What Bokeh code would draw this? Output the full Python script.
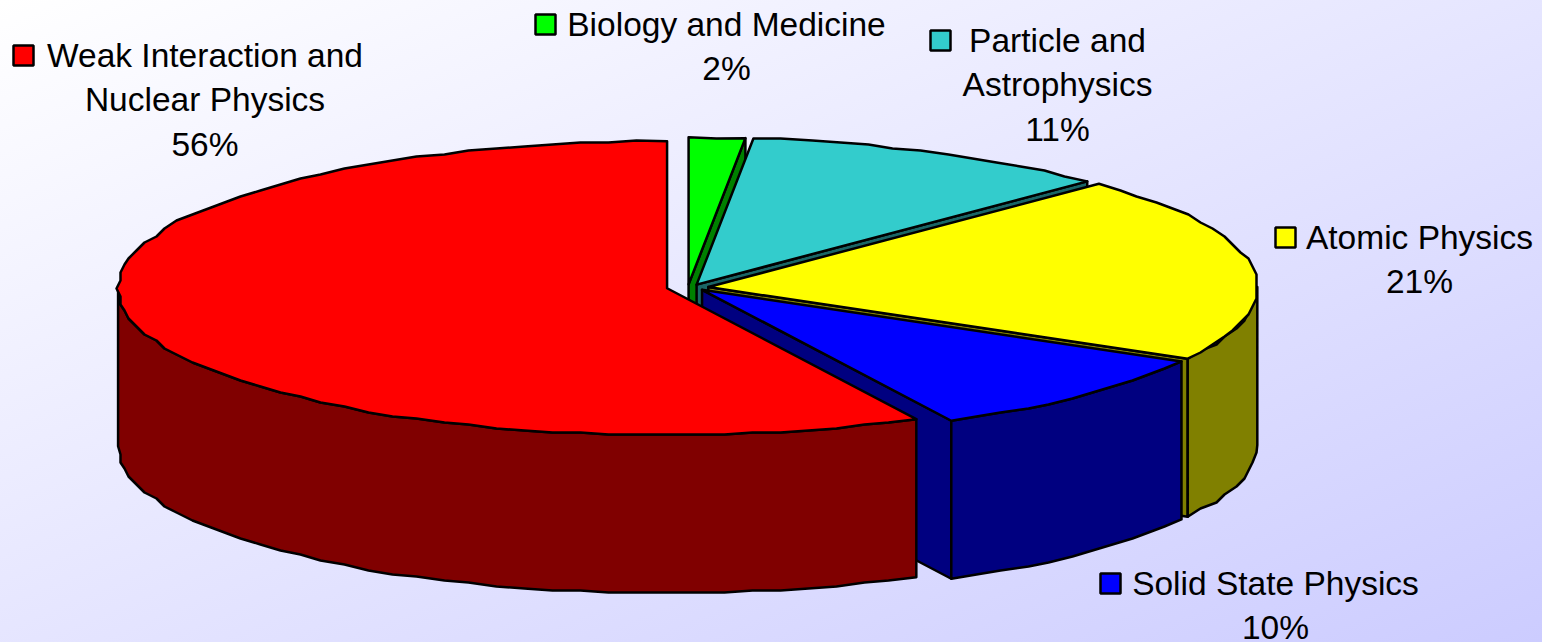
import math
from bokeh.plotting import figure
from bokeh.models import ColumnDataSource, Range1d
from bokeh.core.properties import value
from bokeh.embed import file_html
from bokeh.resources import INLINE

# ---- data ----
categories = ["Biology and Medicine", "Particle and Astrophysics", "Atomic Physics",
              "Solid State Physics", "Weak Interaction and Nuclear Physics"]
# share of the circle actually covered by each drawn wedge
slice_shares = [1.65, 10.95, 20.5, 9.4, 57.5]
percent_labels = ["2%", "11%", "21%", "10%", "56%"]
top_colors = ["#00ff00", "#33cccc", "#ffff00", "#0000ff", "#ff0000"]
side_colors = ["#008000", "#1a6666", "#808000", "#000080", "#800000"]
label_lines = [["Biology and Medicine"], ["Particle and", "Astrophysics"], ["Atomic Physics"],
               ["Solid State Physics"], ["Weak Interaction and", "Nuclear Physics"]]

# ---- layout (screen pixels) ----
W, H = 1542, 642
CX, CY = 687, 287
RX, RY = 549, 147
DEPTH = 158
EXPLODE = 21
EXPLODE_SQUASH = 0.15
SNAP_X, SNAP_Y = 4, 2
label_center_x = [726, 1057, 1419, 1275, 204.5]
label_first_middle = [23.5, 39.5, 236.5, 582.5, 54.5]
LINE_STEP = 44.6
key_center = [(545, 24), (940, 40), (1285, 237), (1110, 583), (23, 55)]

p = figure(width=W, height=H, output_backend="svg", toolbar_location=None,
           x_range=Range1d(0, W), y_range=Range1d(H, 0),
           min_border=0, outline_line_color=None,
           background_fill_color=None, border_fill_color=None)
p.axis.visible = False
p.grid.visible = False


def rim(a0, a1, ox, oy):
    n = max(2, int((a1 - a0) / 3.0))
    pts = []
    for i in range(n + 1):
        a = math.radians(a0 + (a1 - a0) * i / n)
        x = ox + RX * math.sin(a)
        y = oy - RY * math.cos(a)
        if 0 < i < n:
            x = round(x / SNAP_X) * SNAP_X
            y = round(y / SNAP_Y) * SNAP_Y
        pts.append((x, y))
    return pts


def poly(pts, color):
    src = ColumnDataSource(dict(x=[q[0] for q in pts], y=[q[1] for q in pts]))
    p.patch("x", "y", source=src, fill_color=color, line_color="black", line_width=2.5,
            line_join="round")


start = 0.0
for share, top, side in zip(slice_shares, top_colors, side_colors):
    end = start + share * 3.6
    mid = math.radians((start + end) / 2)
    ox = CX + EXPLODE * math.sin(mid)
    oy = CY - EXPLODE * math.cos(mid) * EXPLODE_SQUASH
    arc = rim(start, end, ox, oy)
    # cut wall at the clockwise end of the wedge, faces the viewer in the right half
    if end < 180:
        ex, ey = arc[-1]
        poly([(ox, oy), (ex, ey), (ex, ey + DEPTH), (ox, oy + DEPTH)], side)
    # outer wall: front half of the rim only
    a0, a1 = max(start, 90), min(end, 270)
    if a1 > a0:
        front = rim(a0, a1, ox, oy)
        poly(front + [(x, y + DEPTH) for x, y in reversed(front)], side)
    poly([(ox, oy)] + arc, top)
    start = end

for (kx, ky), color in zip(key_center, top_colors):
    p.rect([kx], [ky], width=20, height=20, fill_color=color, line_color="black", line_width=2.5)

for lines, pct, tx, ty in zip(label_lines, percent_labels, label_center_x, label_first_middle):
    texts = lines + [pct]
    p.text([tx] * len(texts), [ty + i * LINE_STEP for i in range(len(texts))], text=texts,
           text_font=value("Liberation Sans"), text_font_size="33.5px", text_color="black",
           text_align="center", text_baseline="middle")

html = file_html(p, INLINE)
style = ("<style>html,body{margin:0;padding:0;overflow:hidden;height:100%;"
         "background:linear-gradient(to bottom right,#ffffff,#ccccff) no-repeat;}</style>")
html = html.replace("</head>", style + "</head>", 1)
open("out.html", "w").write(html)
